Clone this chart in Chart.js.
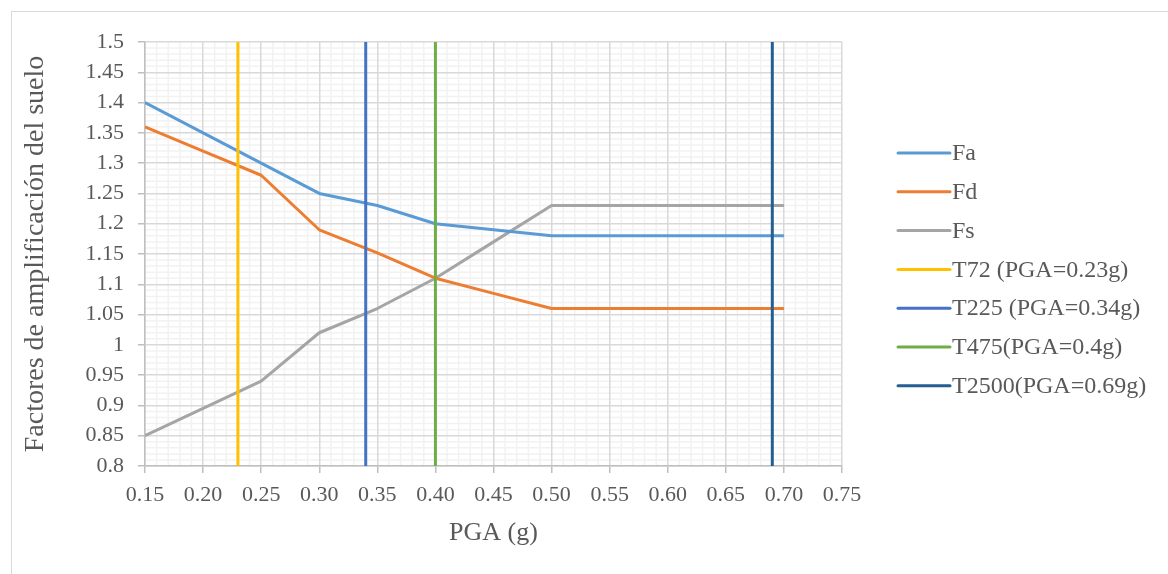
<!DOCTYPE html>
<html>
<head>
<meta charset="utf-8">
<script src="https://cdn.jsdelivr.net/npm/chart.js@4.4.0/dist/chart.umd.min.js"></script>
<style>
  body { margin: 0; background: #fff; }
  #moldura { position: absolute; left: 11px; top: 11px; width: 1200px; height: 600px; border: 1px solid #d9d9d9; }
  #myChart { position: absolute; left: 0; top: 0; }
</style>
</head>
<body>
<div id="moldura"></div>
<canvas id="myChart" width="1168" height="574"></canvas>
<script>
// Dados
const pga = [0.15, 0.20, 0.25, 0.30, 0.35, 0.40, 0.45, 0.50, 0.60, 0.70];
const fa  = [1.40, 1.35, 1.30, 1.25, 1.23, 1.20, 1.19, 1.18, 1.18, 1.18];
const fd  = [1.36, 1.32, 1.28, 1.19, 1.152, 1.11, 1.085, 1.06, 1.06, 1.06];
const fs  = [0.85, 0.895, 0.94, 1.02, 1.06, 1.11, 1.17, 1.23, 1.23, 1.23];

const nomesSeries = ['Fa', 'Fd', 'Fs'];
const coresSeries = ['#5B9BD5', '#ED7D31', '#A5A5A5'];

// Linhas verticais dos períodos de retorno
const nomesRef = ['T72 (PGA=0.23g)', 'T225 (PGA=0.34g)', 'T475(PGA=0.4g)', 'T2500(PGA=0.69g)'];
const pgaRef   = [0.23, 0.34, 0.40, 0.69];
const coresRef = ['#FFC000', '#4472C4', '#70AD47', '#255E91'];

const xMin = 0.15, xMax = 0.75, yMin = 0.8, yMax = 1.5;

Chart.defaults.font.family = "'Liberation Serif', 'Times New Roman', serif";
Chart.defaults.color = '#595959';

const valores = [fa, fd, fs];
const datasets = [];
valores.forEach(function(serie, i){
  datasets.push({
    label: nomesSeries[i],
    data: pga.map(function(x, j){ return {x: x, y: serie[j]}; }),
    borderColor: coresSeries[i],
    backgroundColor: coresSeries[i],
    borderWidth: 3,
    pointRadius: 0,
    borderJoinStyle: 'round',
    order: 1
  });
});
pgaRef.forEach(function(v, i){
  datasets.push({
    label: nomesRef[i],
    data: [{x: v, y: yMin}, {x: v, y: yMax}],
    borderColor: coresRef[i],
    backgroundColor: coresRef[i],
    borderWidth: 3,
    pointRadius: 0,
    order: 0
  });
});

// grade secundária (0.01)
const gradeMenor = {
  id: 'gradeMenor',
  beforeDraw(chart) {
    const ctx = chart.ctx, a = chart.chartArea;
    const sx = chart.scales.x, sy = chart.scales.y;
    ctx.save();
    ctx.strokeStyle = '#F2F2F2';
    ctx.lineWidth = 1.5;
    ctx.beginPath();
    for (let i = 15; i <= 75; i++) {
      if (i % 5 === 0) continue;
      const px = sx.getPixelForValue(i / 100);
      ctx.moveTo(px, a.top); ctx.lineTo(px, a.bottom);
    }
    for (let i = 80; i <= 150; i++) {
      if (i % 5 === 0) continue;
      const py = sy.getPixelForValue(i / 100);
      ctx.moveTo(a.left, py); ctx.lineTo(a.right, py);
    }
    ctx.stroke();
    ctx.restore();
  }
};

// legenda à direita
const legendaLateral = {
  id: 'legendaLateral',
  afterDraw(chart) {
    const ctx = chart.ctx;
    ctx.save();
    ctx.font = "24px 'Liberation Serif'";
    ctx.textBaseline = 'middle';
    ctx.fillStyle = '#595959';
    ctx.lineCap = 'round';
    chart.data.datasets.forEach(function(ds, i){
      const y = 153 + i * 38.8;
      ctx.strokeStyle = ds.borderColor;
      ctx.lineWidth = 3;
      ctx.beginPath(); ctx.moveTo(898, y); ctx.lineTo(950, y); ctx.stroke();
      ctx.fillText(ds.label, 952, y + 1);
    });
    ctx.restore();
  }
};

const ctx = document.getElementById('myChart').getContext('2d');
const myChart = new Chart(ctx, {
  type: 'line',
  data: { datasets: datasets },
  plugins: [gradeMenor, legendaLateral],
  options: {
    responsive: false,
    animation: false,
    devicePixelRatio: 1,
    layout: { padding: { left: 0, top: 42, right: 326, bottom: 0 } },
    plugins: { legend: { display: false }, tooltip: { enabled: false } },
    scales: {
      x: {
        type: 'linear',
        min: xMin, max: xMax,
        afterFit: function(s){ s.height = 108; },
        ticks: {
          stepSize: 0.05,
          padding: 9,
          font: { size: 22 },
          color: '#595959',
          callback: function(v){ return Number(v).toFixed(2); }
        },
        grid: { color: '#D9D9D9', lineWidth: 1.5, tickLength: 7, tickColor: '#BFBFBF' },
        border: { color: '#BFBFBF', width: 1.5 },
        title: { display: true, text: 'PGA (g)', font: { size: 26 }, color: '#595959', padding: { top: 0, bottom: 25 } }
      },
      y: {
        min: yMin, max: yMax,
        afterFit: function(s){ s.width = 145; },
        ticks: {
          stepSize: 0.05,
          padding: 14,
          font: { size: 22 },
          color: '#595959',
          callback: function(v){ return String(Number(Number(v).toFixed(2))); }
        },
        grid: { color: '#D9D9D9', lineWidth: 1.5, tickLength: 7, tickColor: '#BFBFBF' },
        border: { color: '#BFBFBF', width: 1.5 },
        title: { display: true, text: 'Factores de amplificación del suelo', font: { size: 28 }, color: '#595959', padding: { top: 19, bottom: 0 } }
      }
    }
  }
});
</script>
</body>
</html>
